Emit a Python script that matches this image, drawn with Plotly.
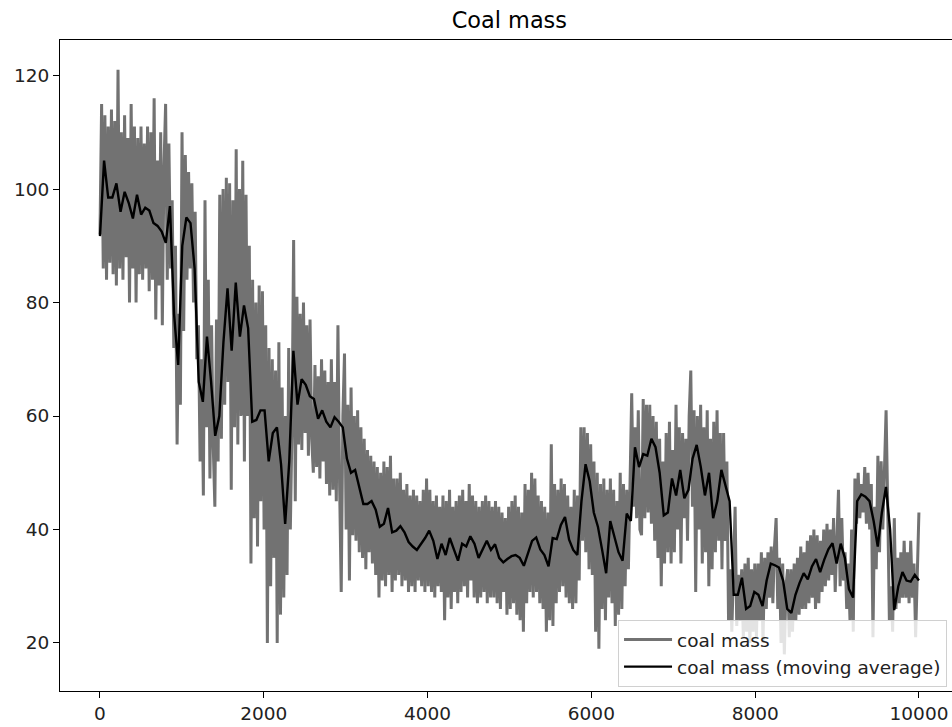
import numpy as np
import plotly.graph_objects as go

# Raw series (~every 20 samples)
coal_mass = [
    92, 115, 86, 113, 84, 111, 87, 114, 85, 112,
    83, 121, 86, 110, 84, 113, 88, 109, 80, 115,
    86, 111, 80, 109, 85, 111, 84, 108, 86, 111,
    82, 110, 84, 116, 77, 105, 83, 110, 76, 104,
    115, 84, 108, 86, 98, 72, 90, 55, 78, 62,
    110, 75, 106, 84, 103, 86, 101, 80, 96, 70,
    76, 52, 70, 46, 98, 58, 84, 49, 76, 55,
    44, 77, 52, 99, 56, 100, 62, 102, 66, 101,
    47, 98, 58, 107, 55, 100, 60, 105, 52, 99,
    60, 90, 34, 84, 42, 80, 37, 83, 45, 82,
    40, 76, 20, 72, 30, 70, 35, 68, 20, 73,
    25, 65, 28, 60, 32, 72, 40, 58, 91, 45,
    81, 55, 78, 54, 80, 57, 76, 53, 77, 56,
    50, 69, 51, 67, 49, 70, 52, 68, 48, 66,
    46, 70, 47, 66, 45, 76, 48, 29, 60, 71,
    40, 62, 31, 65, 39, 60, 38, 61, 36, 58,
    35, 56, 33, 54, 36, 53, 34, 52, 32, 51,
    28, 50, 31, 52, 30, 51, 32, 53, 29, 49,
    31, 49, 32, 50, 30, 47, 31, 48, 29, 46,
    30, 47, 29, 46, 31, 45, 30, 47, 29, 49,
    30, 47, 29, 45, 28, 46, 30, 44, 29, 46,
    24, 45, 28, 47, 26, 44, 29, 45, 27, 46,
    29, 47, 30, 45, 28, 48, 31, 46, 28, 45,
    27, 44, 28, 45, 29, 46, 27, 45, 28, 44,
    28, 45, 27, 44, 26, 43, 29, 42, 25, 44,
    26, 45, 27, 46, 25, 44, 24, 43, 22, 48,
    27, 47, 29, 50, 28, 49, 29, 46, 27, 45,
    26, 44, 22, 43, 24, 55, 23, 48, 27, 47,
    29, 49, 30, 48, 28, 46, 27, 44, 26, 47,
    27, 46, 31, 58, 38, 58, 36, 57, 33, 55,
    32, 52, 22, 50, 19, 48, 26, 49, 24, 47,
    28, 49, 27, 47, 23, 45, 25, 50, 26, 48,
    30, 47, 33, 52, 64, 44, 58, 42, 61, 40,
    39, 63, 42, 62, 43, 62, 41, 60, 38, 59,
    35, 56, 30, 52, 34, 57, 36, 59, 34, 54,
    36, 62, 40, 58, 34, 57, 42, 56, 38, 60,
    68, 44, 61, 29, 60, 40, 62, 34, 58, 36,
    61, 30, 56, 33, 59, 36, 61, 38, 57, 33,
    57, 38, 52, 24, 33, 22, 31, 44, 23, 32,
    24, 33, 21, 34, 22, 35, 20, 33, 22, 34,
    21, 34, 24, 36, 20, 35, 26, 36, 28, 37,
    27, 37, 42, 26, 35, 20, 34, 18, 30, 33,
    21, 33, 22, 34, 24, 35, 25, 37, 26, 36,
    26, 38, 27, 39, 28, 40, 26, 39, 27, 38,
    29, 40, 30, 41, 31, 40, 32, 42, 29, 40,
    47, 30, 42, 31, 36, 26, 34, 24, 40, 22,
    49, 41, 50, 42, 48, 43, 51, 41, 50, 40,
    48, 21, 44, 33, 53, 36, 52, 40, 50, 61,
    44, 24, 30, 22, 42, 26, 35, 27, 36, 28,
    38, 28, 36, 27, 38, 28, 34, 21, 32, 43,
]

# Moving average (read every ~50 samples)
coal_mass_ma = [
    91.7, 105.0, 98.5, 98.5, 101.0, 96.0, 99.5, 97.5, 94.8, 99.0,
    95.5, 96.7, 96.2, 94.0, 93.5, 92.5, 90.5, 97.0, 78.0, 69.0,
    90.0, 95.0, 94.0, 86.0, 66.0, 62.5, 74.0, 66.0, 56.5, 60.0,
    73.0, 82.5, 71.5, 83.5, 74.0, 79.5, 75.5, 59.0, 59.3, 61.0,
    61.0, 52.0, 57.0, 58.0, 51.5, 41.0, 52.0, 71.5, 62.0, 66.5,
    65.5, 63.5, 63.0, 59.5, 61.0, 59.0, 58.0, 59.8, 59.0, 58.0,
    52.5, 50.0, 50.5, 47.5, 44.5, 44.5, 45.0, 43.5, 40.5, 41.0,
    43.8, 39.5, 39.8, 40.6, 39.5, 37.8, 37.0, 36.4, 37.4, 38.5,
    39.8, 38.0, 34.8, 37.5, 35.5, 38.5, 36.5, 34.5, 37.5, 37.0,
    38.8, 37.5, 35.0, 36.5, 38.0, 36.4, 37.4, 35.0, 34.2, 34.8,
    35.3, 35.5, 35.0, 33.6, 36.0, 38.0, 38.6, 36.5, 35.5, 33.5,
    38.5, 38.3, 40.8, 42.2, 38.2, 36.4, 35.5, 45.0, 51.5, 48.5,
    43.0, 40.5, 36.5, 32.3, 41.5, 38.5, 36.0, 34.5, 42.8, 41.5,
    54.5, 51.0, 53.3, 53.0, 56.0, 54.5, 50.0, 42.5, 43.0, 49.0,
    46.0, 50.5, 45.5, 47.0, 52.5, 54.9, 51.0, 46.0, 50.0, 42.0,
    45.0, 50.5, 47.5, 45.0, 28.5, 28.5, 31.5, 26.0, 26.5, 29.0,
    28.5, 26.5, 31.0, 34.0, 33.7, 33.3, 31.0, 26.0, 25.3, 28.5,
    30.6, 32.3, 31.2, 33.5, 34.8, 32.5, 34.7, 36.5, 37.6, 34.0,
    37.5, 35.0, 29.5, 28.0, 45.0, 46.2, 45.8, 45.0, 41.5, 37.0,
    43.0, 47.5, 40.0, 25.8, 30.0, 32.5, 31.0, 30.8, 32.0, 31.0,
]

n_samples = 10000
x_tick_values = [0, 2000, 4000, 6000, 8000, 10000]
x_tick_labels = ["0", "2000", "4000", "6000", "8000", "10000"]
y_tick_values = [20, 40, 60, 80, 100, 120]
y_tick_labels = ["20", "40", "60", "80", "100", "120"]

raw_x = np.linspace(0, n_samples - 1, len(coal_mass))
ma_x = np.linspace(0, n_samples - 1, len(coal_mass_ma))

FONT = "DejaVu Sans"

fig = go.Figure()
fig.add_trace(go.Scatter(
    x=raw_x, y=coal_mass, mode="lines", name="coal mass",
    line=dict(color="#727272", width=3.0),
))
fig.add_trace(go.Scatter(
    x=ma_x, y=coal_mass_ma, mode="lines", name="coal mass (moving average)",
    line=dict(color="black", width=2.4),
))

fig.update_layout(
    width=952, height=727,
    margin=dict(l=60, r=0, t=40, b=36),
    paper_bgcolor="white", plot_bgcolor="white",
    font=dict(family=FONT, size=18.5, color="black"),
    title=dict(text="Coal mass", x=0.535, xanchor="center", y=0.972, yanchor="middle",
               font=dict(family=FONT, size=22.4, color="black")),
    showlegend=True,
    legend=dict(x=0.6256, y=0.109, xanchor="left", yanchor="top",
                bgcolor="rgba(255,255,255,0.8)", bordercolor="#d0d0d0", borderwidth=1,
                font=dict(family=FONT, size=18.5, color="#222"),
                tracegroupgap=0, itemwidth=48),
)
fig.update_xaxes(
    range=[-488, 10403], tickvals=x_tick_values, ticktext=x_tick_labels,
    showgrid=False, zeroline=False,
    showline=True, linecolor="black", linewidth=1, mirror=True,
    ticks="outside", ticklen=6, tickcolor="black", tickfont=dict(size=18.5, color="#222"),
)
fig.update_yaxes(
    range=[11.54, 126.26], tickvals=y_tick_values, ticktext=y_tick_labels,
    showgrid=False, zeroline=False,
    showline=True, linecolor="black", linewidth=1, mirror=False,
    ticks="outside", ticklen=6, tickcolor="black", tickfont=dict(size=18.5, color="#222"),
)

fig.write_html("out.html")
